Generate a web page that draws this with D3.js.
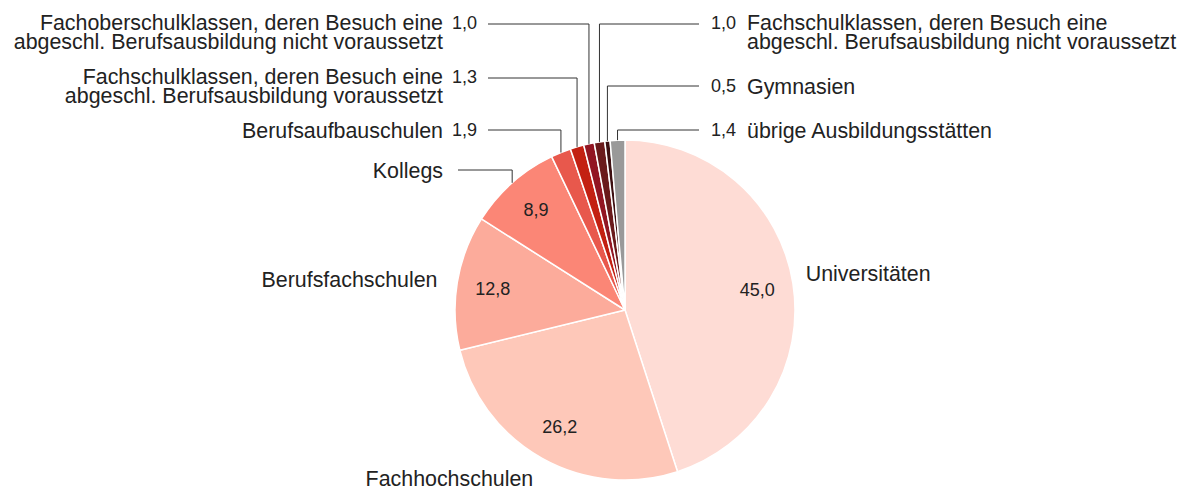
<!DOCTYPE html>
<html>
<head>
<meta charset="utf-8">
<title>Studierende nach Ausbildungsstätten</title>
<script src="https://cdn.jsdelivr.net/npm/d3@7"></script>
<style>
  body { margin: 0; background: #fff; }
  text { font-family: Helvetica, Arial, "Liberation Sans", sans-serif; fill: #222; }
</style>
</head>
<body>
<script>
// data, clockwise from 12 o'clock
var names = [
  ["Universitäten"],
  ["Fachhochschulen"],
  ["Berufsfachschulen"],
  ["Kollegs"],
  ["Berufsaufbauschulen"],
  ["Fachschulklassen, deren Besuch eine", "abgeschl. Berufsausbildung voraussetzt"],
  ["Fachoberschulklassen, deren Besuch eine", "abgeschl. Berufsausbildung nicht voraussetzt"],
  ["Fachschulklassen, deren Besuch eine", "abgeschl. Berufsausbildung nicht voraussetzt"],
  ["Gymnasien"],
  ["übrige Ausbildungsstätten"]
];
var values = [45.0, 26.2, 12.8, 8.9, 1.9, 1.3, 1.0, 1.0, 0.5, 1.4];
var colors = ["#fedcd5", "#fec8b9", "#fcab9b", "#fb8676", "#e8584c", "#c32012",
              "#921522", "#6a1a1b", "#3c0e10", "#999999"];

var width = 1184, height = 491;
var cx = 625, cy = 310, r = 170;
var nameSize = "21.4px", valueSize = "18px";

// label layout (how the callouts are placed, not data)
var callouts = {
  3: { side: "left", y: 170, value: false },
  4: { side: "left", y: 130 },
  5: { side: "left", y: 78 },
  6: { side: "left", y: 24 },
  7: { side: "right", y: 24 },
  8: { side: "right", y: 86 },
  9: { side: "right", y: 130 }
};

var fmt = function (v) { return d3.format(".1f")(v).replace(".", ","); };

var svg = d3.select("body").append("svg")
    .attr("width", width)
    .attr("height", height);

var pie = d3.pie().sort(null).value(function (d) { return d; });
var arcs = pie(values);

var arc = d3.arc().innerRadius(0).outerRadius(r);
var inner = d3.arc().innerRadius(134).outerRadius(134);

var g = svg.append("g").attr("transform", "translate(" + cx + "," + cy + ")");

g.selectAll("path")
    .data(arcs)
    .enter()
    .append("path")
    .attr("d", arc)
    .attr("fill", function (d, i) { return colors[i]; })
    .attr("stroke", "#fff")
    .attr("stroke-width", 1.5)
    .attr("stroke-linejoin", "round");

// values inside the big slices
g.selectAll("text.inner")
    .data(arcs.filter(function (d) { return d.index < 4; }))
    .enter()
    .append("text")
    .attr("class", "inner")
    .attr("x", function (d) { return inner.centroid(d)[0]; })
    .attr("y", function (d) { return inner.centroid(d)[1]; })
    .attr("dy", "0.36em")
    .attr("text-anchor", "middle")
    .attr("font-size", valueSize)
    .text(function (d) { return fmt(d.data); });

function mid(d) { return (d.startAngle + d.endAngle) / 2; }
function polar(a, rad) { return [cx + rad * Math.sin(a), cy - rad * Math.cos(a)]; }

// names of the big slices, next to the pie
var p0 = polar(mid(arcs[0]), 183);
svg.append("text").attr("x", p0[0]).attr("y", p0[1] - 8).attr("dy", "0.36em")
    .attr("font-size", nameSize).attr("text-anchor", "start").text(names[0][0]);

var p1 = polar(mid(arcs[1]) + 0.29, 245);
svg.append("text").attr("x", p1[0]).attr("y", p1[1] - 3).attr("dy", "0.36em")
    .attr("font-size", nameSize).attr("text-anchor", "middle").text(names[1][0]);

var p2 = polar(mid(arcs[2]), 190);
svg.append("text").attr("x", p2[0]).attr("y", p2[1]).attr("dy", "0.36em")
    .attr("font-size", nameSize).attr("text-anchor", "end").text(names[2][0]);

// callouts with leader lines
Object.keys(callouts).forEach(function (k) {
  var d = arcs[+k], c = callouts[k];
  var edge = polar(mid(d), r);
  var left = c.side === "left";
  var showValue = c.value !== false;
  var lineEnd = left ? (showValue ? 488 : 458) : 699;
  var twoLines = names[+k].length > 1;

  svg.append("path")
      .attr("d", "M" + lineEnd + "," + c.y + "H" + edge[0] + "V" + edge[1])
      .attr("fill", "none")
      .attr("stroke", "#333")
      .attr("stroke-width", 1);

  if (showValue) {
    svg.append("text")
        .attr("x", left ? 452 : 711)
        .attr("y", c.y - (twoLines ? 1 : 0))
        .attr("dy", "0.36em")
        .attr("font-size", valueSize)
        .attr("text-anchor", "start")
        .text(fmt(d.data));
  }

  var t = svg.append("text")
      .attr("x", left ? 443 : 747)
      .attr("y", c.y - (twoLines ? 2 : 0))
      .attr("font-size", nameSize)
      .attr("text-anchor", left ? "end" : "start");
  names[+k].forEach(function (line, j) {
    t.append("tspan")
        .attr("x", left ? 443 : 747)
        .attr("dy", j === 0 ? "0.36em" : "19px")
        .text(line);
  });
});
</script>
</body>
</html>
